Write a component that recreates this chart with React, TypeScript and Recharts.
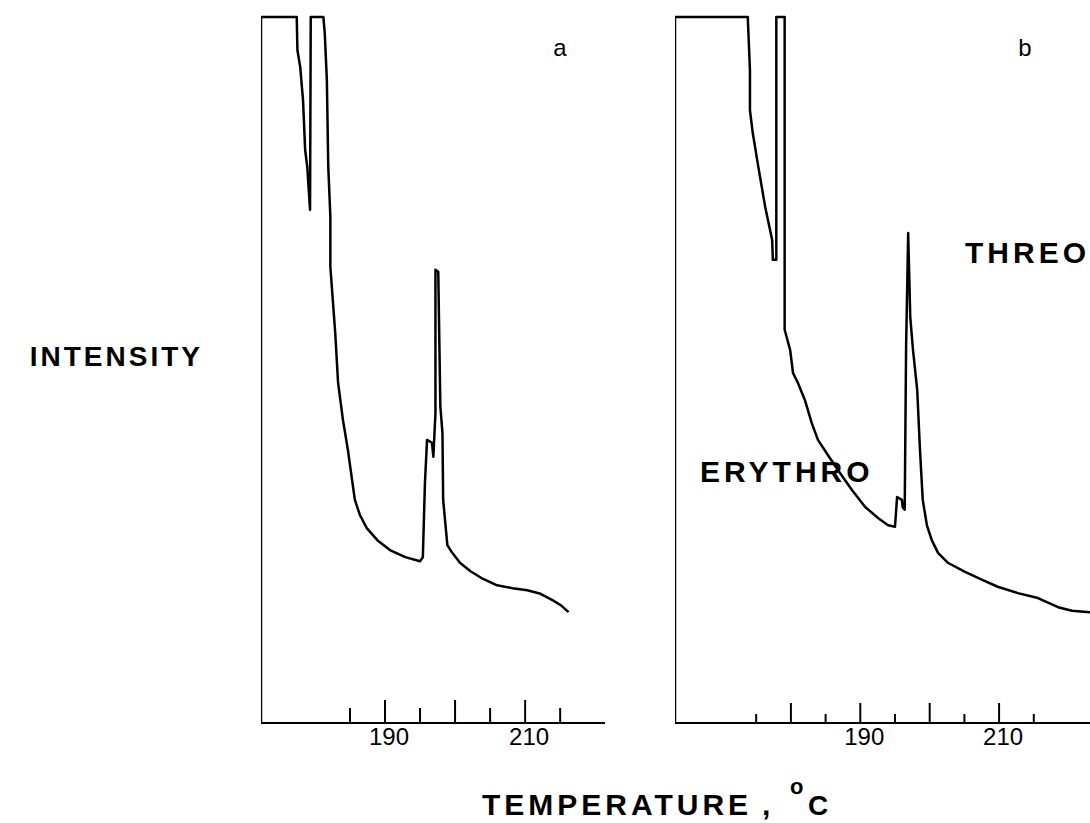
import { LineChart, Line, XAxis, YAxis } from "recharts";

// panel a trace, temperature (°C) vs relative intensity
const aTemp = [
  172.3, 172.3, 177.4, 177.5, 177.9, 178.3, 178.6, 178.9, 179.3, 179.4, 181.2,
  181.4, 181.7, 181.9, 182.2, 182.2, 182.9, 183.3, 184.0, 184.7, 185.3,
  185.7, 186.4, 187.4, 188.9, 190.7, 192.9, 195.0, 195.4, 195.7, 196.0,
  196.7, 196.9, 197.2, 197.2, 197.6, 197.9, 198.2, 198.3, 198.9, 199.6,
  200.7, 202.2, 204.0, 206.0, 208.2, 210.3, 212.2, 213.9, 215.2, 216.2,
];
const aIntensity = [
  0, 100, 100, 95.3, 92.9, 88.2, 81.2, 78.8, 72.7, 100, 100,
  97.7, 91.1, 78.8, 71.7, 64.6, 55.2, 48.2, 42.9, 38.7, 34.4,
  31.6, 29.5, 27.6, 25.9, 24.5, 23.5, 22.9, 23.5, 34.0, 40.1,
  39.7, 37.7, 43.9, 64.2, 63.9, 44.8, 41.1, 31.6, 25.2, 24.1,
  22.7, 21.5, 20.4, 19.5, 19.1, 18.8, 18.3, 17.4, 16.6, 15.7,
];

// panel b trace
const bTemp = [
  163.3, 163.3, 173.8, 173.8, 174.1, 174.1, 174.5, 175.3, 176.3, 177.3, 177.4,
  177.9, 177.9, 179.1, 179.1, 179.9, 180.3, 181.0, 182.0, 183.0, 183.9,
  185.3, 186.8, 188.8, 190.7, 192.6, 194.0, 195.0, 195.3, 196.0, 196.1,
  196.4, 196.6, 196.9, 197.2, 197.6, 198.2, 198.6, 199.0, 199.6, 200.3,
  201.2, 202.6, 205.1, 207.5, 209.8, 212.7, 215.6, 218.5, 220.5, 223.1,
];
const bIntensity = [
  0, 100, 100, 99.6, 92.5, 86.8, 83.6, 78.8, 73.1, 68.4, 65.6,
  65.6, 100, 100, 55.7, 52.8, 49.6, 48.2, 45.8, 42.5, 40.1,
  38.0, 35.8, 33.0, 30.6, 29.0, 28.0, 27.8, 32.0, 31.6, 30.6,
  30.2, 53.3, 69.4, 57.5, 52.8, 47.2, 38.7, 31.6, 28.0, 25.9,
  24.1, 22.7, 21.4, 20.3, 19.3, 18.4, 17.7, 16.4, 15.9, 15.7,
];

const aTicks = [185, 190, 195, 200, 205, 210, 215];
const bTicks = [175, 180, 185, 190, 195, 200, 205, 210, 215];
const tickLabels = [190, 210];

const aData = aTemp.map((t, i) => ({ t, v: aIntensity[i] }));
const bData = bTemp.map((t, i) => ({ t, v: bIntensity[i] }));

const FONT = "'Liberation Sans', Arial, sans-serif";

function UpTick(props: any) {
  const { x, y, payload, major, minor } = props;
  const v = payload.value;
  const h = v % 10 === 0 ? major : minor;
  return (
    <g>
      <line x1={x} x2={x} y1={y} y2={y - h} stroke="#000" strokeWidth={2} />
      {tickLabels.includes(v) && (
        <text x={x + 4} y={y + 22} textAnchor="middle" fontSize={24} fontFamily={FONT} fill="#000">
          {v}
        </text>
      )}
    </g>
  );
}

function Panel(props: { data: any[]; domain: number[]; ticks: number[]; width: number; major: number; minor: number }) {
  const { data, domain, ticks, width, major, minor } = props;
  return (
    <LineChart width={width} height={756} data={data} margin={{ top: 5, right: 5, left: 5, bottom: 0 }}>
      <XAxis
        dataKey="t"
        type="number"
        domain={domain}
        ticks={ticks}
        allowDataOverflow
        interval={0}
        height={45}
        tickSize={0}
        tickMargin={0}
        tickLine={false}
        axisLine={{ stroke: "#000", strokeWidth: 2 }}
        tick={<UpTick major={major} minor={minor} />}
      />
      <YAxis hide domain={[0, 100]} />
      <Line
        dataKey="v"
        type="linear"
        dot={false}
        stroke="#000"
        strokeWidth={2.5}
        strokeLinejoin="round"
        isAnimationActive={false}
      />
    </LineChart>
  );
}

export default function App() {
  return (
    <div style={{ position: "absolute", left: 0, top: 0, width: 1090, height: 823, overflow: "hidden", background: "#fff" }}>
      <div style={{ position: "absolute", left: 256, top: 12 }}>
        <Panel data={aData} domain={[172.3, 221.4]} ticks={aTicks} width={354} major={23} minor={15} />
      </div>
      <div style={{ position: "absolute", left: 670, top: 12 }}>
        <Panel data={bData} domain={[163.3, 223.1]} ticks={bTicks} width={425} major={20} minor={9} />
      </div>
      <svg width={1090} height={823} style={{ position: "absolute", left: 0, top: 0, pointerEvents: "none" }}>
        <g fontFamily={FONT} fill="#000" fontWeight="bold">
          <text x={203} y={366} fontSize={28} letterSpacing={3} textAnchor="end">INTENSITY</text>
          <text x={700} y={482} fontSize={30} letterSpacing={4}>ERYTHRO</text>
          <text x={965} y={263} fontSize={30} letterSpacing={4}>THREO</text>
          <text x={482} y={815} fontSize={30} letterSpacing={4}>TEMPERATURE</text>
          <text x={762} y={815} fontSize={30}>,</text>
          <text x={790} y={794} fontSize={22}>o</text>
          <text x={808} y={815} fontSize={28}>C</text>
        </g>
        <g fontFamily={FONT} fill="#000">
          <text x={560} y={56} fontSize={24} textAnchor="middle">a</text>
          <text x={1025} y={56} fontSize={24} textAnchor="middle">b</text>
        </g>
      </svg>
    </div>
  );
}
